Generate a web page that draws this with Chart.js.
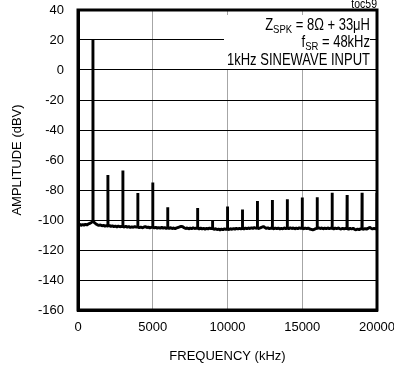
<!DOCTYPE html>
<html>
<head>
<meta charset="utf-8">
<script src="https://cdn.jsdelivr.net/npm/chart.js@4.4.1/dist/chart.umd.min.js"></script>
<style>
  html, body { margin: 0; padding: 0; background: #fff; }
  #wrap { width: 394px; height: 365px; }
</style>
</head>
<body>
<div id="wrap"><canvas id="c" width="394" height="365"></canvas></div>
<script>
// ---- Data ----
// Noise floor, one reading every 100 Hz from 0 to 20000 Hz (dBV)
const noiseStartHz = 0;
const noiseStepHz = 100;
const noiseFloor = [
  -103.2, -102.8, -103.6, -103.0, -103.4, -102.9, -103.3, -102.6, -102.2, -101.6,
  -101.0,
  -101.8, -102.6, -103.2, -103.6, -103.3, -103.9, -103.5, -104.1, -103.7,
  -104.0, -103.6, -104.3, -103.9, -104.4, -104.0, -104.6, -104.1, -104.5, -104.2,
  -104.3, -104.7, -104.2, -104.8, -104.4, -105.0, -104.5, -104.9, -104.3, -104.8,
  -104.6, -105.1, -104.7, -105.2, -104.8, -104.4, -105.0, -104.7, -105.3, -104.9,
  -104.8, -105.3, -104.9, -105.4, -105.0, -105.5, -104.9, -105.4, -105.1, -105.6,
  -105.2, -105.6, -105.1, -105.7, -105.3, -105.8, -105.2, -105.0, -104.6, -104.2,
  -104.5, -105.2, -105.7, -105.3, -105.9, -105.4, -105.8, -105.2, -105.7, -105.4,
  -105.5, -105.9, -105.4, -106.0, -105.5, -106.1, -105.6, -105.9, -105.4, -105.8,
  -105.6, -106.2, -105.8, -106.4, -106.0, -106.6, -106.1, -106.5, -105.9, -106.3,
  -106.0, -106.4, -105.8, -106.2, -105.7, -106.1, -105.6, -106.0, -105.5, -105.9,
  -105.6, -106.0, -105.4, -105.8, -105.3, -105.7, -105.2, -105.6, -105.1, -105.5,
  -105.3, -105.7, -105.2, -104.8, -104.3, -105.0, -105.6, -105.2, -105.8, -105.4,
  -105.5, -105.9, -105.3, -105.8, -105.4, -106.0, -105.5, -105.9, -105.3, -105.7,
  -105.4, -105.8, -105.2, -105.7, -105.3, -105.9, -105.4, -105.8, -105.2, -105.6,
  -105.5, -105.9, -105.3, -105.8, -105.4, -106.0, -106.3, -106.6, -106.2, -105.8,
  -105.6, -105.2, -105.7, -105.3, -105.9, -105.4, -105.8, -105.3, -105.7, -105.4,
  -105.5, -105.9, -105.4, -105.8, -105.3, -105.7, -106.0, -105.5, -105.9, -105.6,
  -105.7, -106.1, -105.6, -106.0, -105.5, -106.2, -106.5, -106.0, -106.4, -105.9,
  -105.8, -106.2, -105.7, -106.1, -105.6, -104.9, -105.5, -106.0, -105.6, -105.9, -105.7
];

// Fundamental and harmonics (Hz) and their peak levels (dBV)
const harmonicFreqs  = [1000, 2000, 3000, 4000, 5000, 6000, 8000, 9000, 10000, 11000,
                        12000, 13000, 14000, 15000, 16000, 17000, 18000, 19000, 20000];
const harmonicLevels = [20, -70, -67, -82, -75, -91.5, -92, -100.7, -91, -93,
                        -87.3, -86.7, -86.2, -85, -84.9, -81.8, -83.3, -81.8, -82];

// Axis ticks
const xTicks = [0, 5000, 10000, 15000, 20000];
const yTicks = [40, 20, 0, -20, -40, -60, -80, -100, -120, -140, -160];

// Texts
const xTitle = 'FREQUENCY (kHz)';
const yTitle = 'AMPLITUDE (dBV)';
const noteCode = 'toc59';

// ---- Build the trace from the arrays ----
const spectrum = [];
noiseFloor.forEach((v, i) => {
  const f = noiseStartHz + i * noiseStepHz;
  const h = harmonicFreqs.indexOf(f);
  if (h >= 0) {
    spectrum.push({x: f - 8, y: v});
    spectrum.push({x: f, y: harmonicLevels[h]});
    spectrum.push({x: f + 8, y: v});
  } else {
    spectrum.push({x: f, y: v});
  }
});

const FONT = "'Liberation Sans', Arial, sans-serif";
const FS = 13;
const STRETCH = 1.2;

function zeroPad(s) { s.paddingTop = 0; s.paddingBottom = 0; s.paddingLeft = 0; s.paddingRight = 0; }

const framePlugin = {
  id: 'frame',
  beforeDatasetsDraw(chart) {
    const ctx = chart.ctx;
    const a = chart.chartArea;
    ctx.save();
    ctx.fillStyle = '#fff';
    ctx.fillRect(a.left + 146, a.top + 5, 146, 54);
    ctx.restore();
  },
  afterDraw(chart) {
    const ctx = chart.ctx;
    const a = chart.chartArea;
    ctx.save();
    ctx.strokeStyle = '#000';
    ctx.lineWidth = 3;
    ctx.strokeRect(a.left, a.top, a.right - a.left, a.bottom - a.top);

    const rx = a.right - 7;
    const big = FS + 'px ' + FONT;
    const small = '9.5px ' + FONT;
    ctx.fillStyle = '#000';
    ctx.textBaseline = 'alphabetic';
    function put(text, x, y, font, align) {
      ctx.save();
      ctx.font = font;
      ctx.textAlign = align || 'left';
      ctx.translate(x, y);
      ctx.scale(1, STRETCH);
      ctx.fillText(text, 0, 0);
      ctx.restore();
    }
    function drawSub(main, sub, rest, baseY) {
      ctx.font = big;
      const wMain = ctx.measureText(main).width;
      const wRest = ctx.measureText(rest).width;
      ctx.font = small;
      const wSub = ctx.measureText(sub).width;
      let x = rx - wMain - wSub - wRest;
      put(main, x, baseY, big);
      x += wMain;
      put(sub, x, baseY + 2.5, small);
      x += wSub;
      put(rest, x, baseY, big);
    }
    drawSub('Z', 'SPK', ' = 8\u03A9 + 33\u03BCH', a.top + 20);
    drawSub('f', 'SR', ' = 48kHz', a.top + 37);
    put('1kHz SINEWAVE INPUT', rx, a.top + 55, big, 'right');
    put(noteCode, a.right, 7.5, '10.5px ' + FONT, 'right');
    ctx.restore();
  }
};

new Chart(document.getElementById('c'), {
  type: 'line',
  data: {
    datasets: [{
      data: spectrum,
      borderColor: '#000',
      borderWidth: 2.9,
      borderJoinStyle: 'bevel',
      pointRadius: 0,
      tension: 0,
      fill: false
    }]
  },
  options: {
    responsive: false,
    animation: false,
    events: [],
    layout: { padding: { top: 10, right: 17, left: 0, bottom: 0 } },
    plugins: { legend: { display: false }, tooltip: { enabled: false } },
    scales: {
      x: {
        type: 'linear', min: 0, max: 20000,
        afterBuildTicks: s => { s.ticks = xTicks.map(v => ({ value: v })); },
        afterFit: s => { s.height = 55; zeroPad(s); },
        ticks: { color: '#000', font: { family: FONT, size: FS }, padding: 10, maxRotation: 0,
                 callback: v => String(v) },
        grid: { color: '#a6a6a6', lineWidth: 1, drawTicks: false },
        border: { color: '#000', width: 3 },
        title: { display: true, text: xTitle, color: '#000', font: { family: FONT, size: FS },
                 padding: { top: 0, bottom: 1 } }
      },
      y: {
        min: -160, max: 40,
        afterBuildTicks: s => { s.ticks = yTicks.map(v => ({ value: v })); },
        afterFit: s => { s.width = 78; zeroPad(s); },
        ticks: { color: '#000', font: { family: FONT, size: FS }, padding: 14,
                 callback: v => String(v) },
        grid: { color: '#000', lineWidth: 1, drawTicks: false },
        border: { color: '#000', width: 3 },
        title: { display: true, text: yTitle, color: '#000', font: { family: FONT, size: FS },
                 padding: { top: 10, bottom: 0 } }
      }
    }
  },
  plugins: [framePlugin]
});
</script>
</body>
</html>
